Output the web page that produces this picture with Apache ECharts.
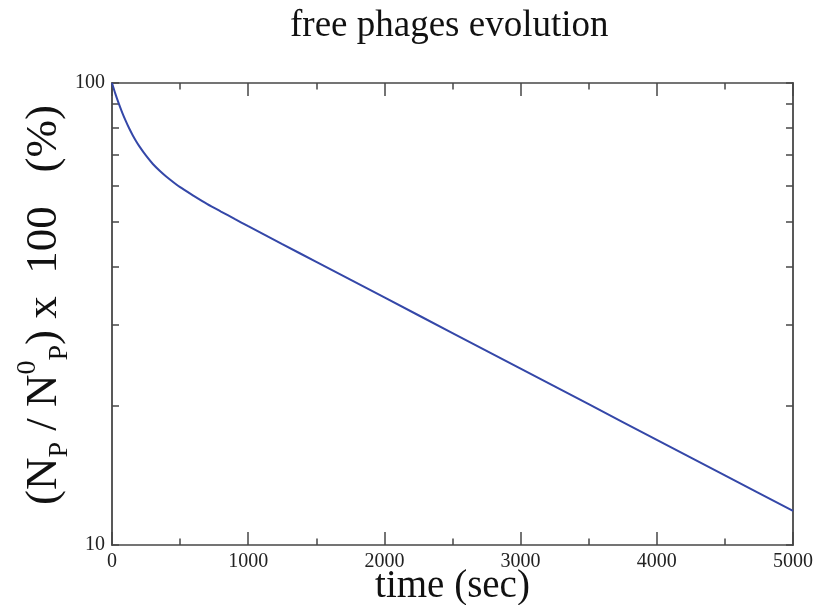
<!DOCTYPE html>
<html>
<head>
<meta charset="utf-8">
<script src="https://cdn.jsdelivr.net/npm/echarts@6/dist/echarts.min.js"></script>
<style>html,body{margin:0;padding:0;background:#fff}#c{width:815px;height:605px}</style>
</head>
<body>
<div id="c"></div>
<script>
const timeSec = [0,25,50,75,100,125,150,175,200,250,300,350,400,500,600,700,800,900,1000,1250,1500,2000,2500,3000,3500,4000,4500,5000];
const phagePct = [100,94.7,90.2,86.3,82.9,79.9,77.3,75.0,73.0,69.6,66.8,64.6,62.7,59.5,57.0,54.7,52.7,50.8,49.0,44.8,41.0,34.34,28.76,24.08,20.17,16.89,14.15,11.85];
const yTickValues = [10,20,30,40,50,60,70,80,90,100];
const yLabelValues = [10,100];
const xTicks = [0,1000,2000,3000,4000,5000];

const FONT = '"Liberation Serif","Times New Roman",serif';
const AXC = '#474747';
const chart = echarts.init(document.getElementById('c'), null, {renderer:'canvas'});
const data = timeSec.map((t,i)=>[t, phagePct[i]]);
const xCommon = {
  type:'value', min:xTicks[0], max:xTicks[xTicks.length-1], interval:1000,
  axisLine:{show:true, onZero:false, lineStyle:{color:AXC, width:1.5}},
  axisTick:{show:true, inside:true, length:13, lineStyle:{color:AXC, width:1.5}},
  minorTick:{show:true, splitNumber:2, length:6.5, lineStyle:{color:AXC, width:1.5}},
  splitLine:{show:false}, minorSplitLine:{show:false}
};
const yCommon = {
  type:'log', logBase:10, min:10, max:100,
  axisLine:{show:true, onZero:false, lineStyle:{color:AXC, width:1.8}},
  axisTick:{show:true, inside:true, length:7, customValues:yTickValues, lineStyle:{color:AXC, width:1.5}},
  splitLine:{show:false}, minorTick:{show:false}
};
chart.setOption({
  animation:false,
  backgroundColor:'#fff',
  title:{
    text:'free phages evolution', left:290, top:8, padding:0,
    textStyle:{fontFamily:FONT, fontSize:37, fontWeight:'normal', color:'#111'}
  },
  grid:{left:112, top:83, right:22, bottom:60, containLabel:false, outerBoundsMode:'none'},
  xAxis:[
    Object.assign({}, xCommon, {
      position:'bottom',
      axisLabel:{show:true, margin:7, fontFamily:FONT, fontSize:20, color:'#222', formatter:function(v){return String(v);}},
      name:'time (sec)', nameLocation:'middle', nameGap:22, nameMoveOverlap:false,
      nameTextStyle:{fontFamily:FONT, fontSize:39, color:'#111'}
    }),
    Object.assign({}, xCommon, {position:'top', axisLabel:{show:false}})
  ],
  yAxis:[
    Object.assign({}, yCommon, {
      position:'left',
      axisLabel:{show:true, margin:7, customValues:yLabelValues, fontFamily:FONT, fontSize:20, color:'#222'},
      name:'{g| }(N{sub|P} / N{sup|0}{sub|P}) x  100   (%)',
      nameLocation:'middle', nameRotate:90, nameGap:38, nameMoveOverlap:false,
      nameTextStyle:{
        fontFamily:FONT, fontSize:45, color:'#111', lineHeight:60,
        rich:{
          g:{width:18, lineHeight:60, fontSize:10},
          sub:{fontFamily:FONT, fontSize:28, color:'#111', verticalAlign:'bottom', lineHeight:60},
          sup:{fontFamily:FONT, fontSize:28, color:'#111', verticalAlign:'top', lineHeight:60}
        }
      }
    }),
    Object.assign({}, yCommon, {position:'right', axisLabel:{show:false}})
  ],
  series:[{
    type:'line', data:data, xAxisIndex:0, yAxisIndex:0,
    showSymbol:false, smooth:0.2,
    lineStyle:{color:'#3447a8', width:2}
  }]
});
</script>
</body>
</html>
